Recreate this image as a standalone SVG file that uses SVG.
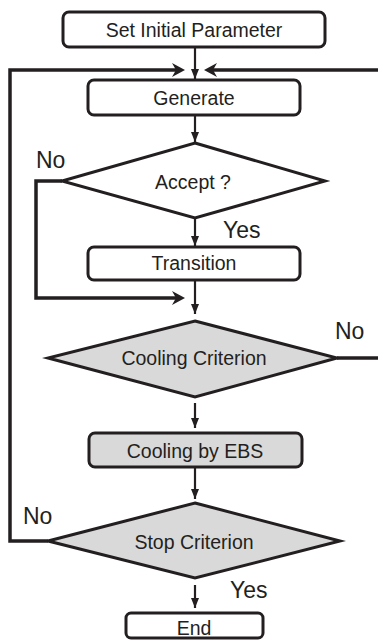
<svg xmlns="http://www.w3.org/2000/svg" width="378" height="640" viewBox="0 0 378 640">
<defs>
<style>
.box{fill:#fff;stroke:#231f20;stroke-width:3}
.dia{fill:#fff;stroke:#231f20;stroke-width:3;stroke-linejoin:miter}
.gray{fill:#d9d9d9}
.lbl{font-family:"Liberation Sans",Arial,sans-serif;font-size:19.5px;fill:#231f20;text-anchor:middle}
.yn{font-family:"Liberation Sans",Arial,sans-serif;font-size:23px;fill:#231f20}
.v{fill:none;stroke:#231f20;stroke-width:2.2;marker-end:url(#arrV)}
.fb{fill:none;stroke:#231f20;stroke-width:3.5;stroke-linejoin:miter}
</style>
<marker id="arrV" viewBox="0 0 10 8" refX="10" refY="4" markerWidth="10" markerHeight="8" markerUnits="userSpaceOnUse" orient="auto">
<path d="M0,0 L10,4 L0,8 z" fill="#231f20"/>
</marker>
<marker id="arrC" viewBox="0 0 13 14" refX="4" refY="7" markerWidth="13" markerHeight="14" markerUnits="userSpaceOnUse" orient="auto">
<path d="M0,0 L13,7 L0,14 L4,7 z" fill="#231f20"/>
</marker>
</defs>

<g id="connectors">
<path class="v" d="M195,48 V79"/>
<path class="fb" d="M48,541 H10 V70 H176" marker-end="url(#arrC)"/>
<path class="fb" d="M378,70 H213" marker-end="url(#arrC)"/>
<path class="v" d="M195,116 V142"/>
<path class="fb" d="M62,181 H36 V298 H176" marker-end="url(#arrC)"/>
<path class="v" d="M195,219 V246"/>
<path class="v" d="M195,281 V314"/>
<path class="fb" d="M337,358 H378"/>
<path class="v" d="M195,403 V428"/>
<path class="v" d="M195,468 V499"/>
<path class="v" d="M195,585 V608"/>
<text class="yn" x="36" y="168">No</text>
<text class="yn" x="223" y="238">Yes</text>
<text class="yn" x="335" y="339">No</text>
<text class="yn" x="23" y="524">No</text>
<text class="yn" x="230" y="598">Yes</text>
</g>

<g id="start">
<rect class="box" x="63" y="12" width="262" height="35" rx="6"/>
<text class="lbl" x="194" y="37">Set Initial Parameter</text>
</g>
<g id="generate">
<rect class="box" x="88" y="80" width="212" height="35" rx="6"/>
<text class="lbl" x="194" y="105">Generate</text>
</g>
<g id="accept">
<polygon class="dia" points="195,143 325,181 195,218 62,181"/>
<text class="lbl" x="193" y="189">Accept ?</text>
</g>
<g id="transition">
<rect class="box" x="88" y="247" width="212" height="33" rx="6"/>
<text class="lbl" x="194" y="270">Transition</text>
</g>
<g id="cooling-criterion">
<polygon class="dia gray" points="195,321 337,358 195,397 48,358"/>
<text class="lbl" x="194" y="365">Cooling Criterion</text>
</g>
<g id="cooling-ebs">
<rect class="box gray" x="89" y="433" width="213" height="34" rx="6"/>
<text class="lbl" x="195" y="458">Cooling by EBS</text>
</g>
<g id="stop-criterion">
<polygon class="dia gray" points="195,503 340,541 195,578 48,541"/>
<text class="lbl" x="194" y="549">Stop Criterion</text>
</g>
<g id="end">
<rect class="box" x="126" y="613" width="137" height="25" rx="5"/>
<text class="lbl" x="194" y="635">End</text>
</g>
</svg>
